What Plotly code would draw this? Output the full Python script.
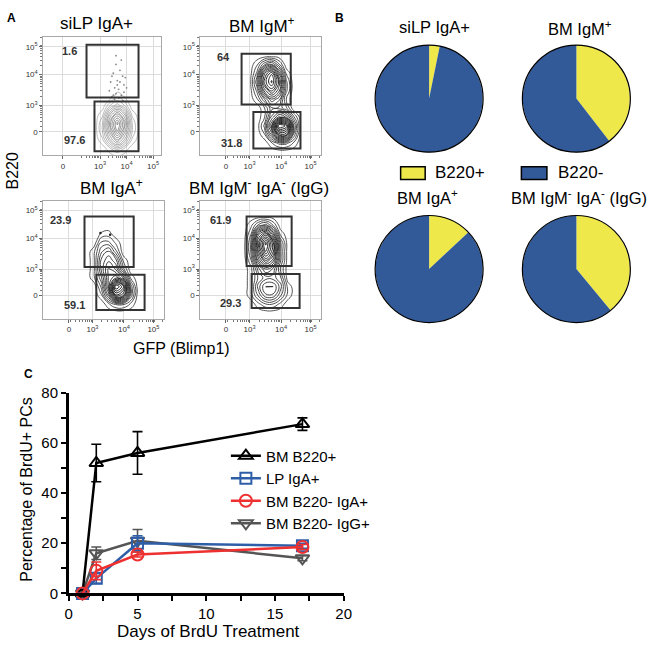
import math
import plotly.graph_objects as go

W, H = 658, 654
FONT = "Liberation Sans, Arial, sans-serif"


def px(x):
    return x / W


def py(y):
    return 1 - y / H


# ---------------- Panel C data ----------------
days = [1, 2, 5, 17]
bm_b220pos = [0, 52, 56, 67.5]
bm_b220pos_err = [0, 7.5, 8.5, 2.5]
lp_iga = [0, 6, 20, 19]
lp_iga_err = [0, 2, 3, 1]
bm_b220neg_iga = [0, 9, 15.5, 18.5]
bm_b220neg_iga_err = [0, 3.5, 1, 1]
bm_b220neg_igg = [0, 16, 21, 14]
bm_b220neg_igg_err = [0, 2.5, 4.5, 1]

# ---------------- Panel B data ----------------
pie_titles = ["siLP IgA+", "BM IgM<sup>+</sup>", "BM IgA<sup>+</sup>",
              "BM IgM<sup>-</sup> IgA<sup>-</sup> (IgG)"]
pie_labels = ["B220+", "B220-"]
b220pos_share = [3.2, 39.5, 13, 39]
b220neg_share = [96.8, 60.5, 87, 61]

# ---------------- Panel A data ----------------
flow_titles = ["siLP IgA+", "BM IgM<sup>+</sup>", "BM IgA<sup>+</sup>",
               "BM IgM<sup>-</sup> IgA<sup>-</sup> (IgG)"]
gate_upper_pct = ["1.6", "64", "23.9", "61.9"]
gate_lower_pct = ["97.6", "31.8", "59.1", "29.3"]

# density grids (display units: ~decades of GFP / B220)
flow1_x = [1.2, 1.5, 1.8, 2.05, 2.3, 2.6, 2.9]
flow1_y = [-0.9, -0.6, -0.3, 0.0, 0.3, 0.6, 0.9, 1.2, 1.5]
flow1_z = [
    [0, 0, 0, 0, 0, 0, 0],
    [0, 0, 1, 2, 1, 0, 0],
    [0, 1, 4, 6, 4, 1, 0],
    [0, 2, 6, 9, 6, 2, 0],
    [0, 2, 7, 10, 7, 2, 0],
    [0, 1, 5, 7, 5, 1, 0],
    [0, 0, 2, 3, 2, 0, 0],
    [0, 0, 0, 1, 0.5, 0, 0],
    [0, 0, 0, 0, 0, 0, 0],
]
flow1_dots_x = [1.85, 2.0, 2.2, 1.95, 2.1, 2.3, 1.8, 2.05, 2.25, 1.9, 2.15, 2.35, 2.0,
                1.75, 2.2, 2.1, 1.95, 2.3, 2.05, 1.85, 2.25, 2.0, 2.15, 1.9, 2.4]
flow1_dots_y = [1.2, 1.3, 1.25, 1.5, 1.45, 1.6, 1.7, 1.75, 1.9, 2.0, 2.1, 1.85, 2.3,
                1.4, 2.45, 1.15, 1.1, 1.35, 1.6, 1.9, 1.05, 2.6, 1.7, 1.25, 1.5]

flow2_x = [0.8, 1.05, 1.3, 1.55, 1.8, 2.05, 2.3, 2.55]
flow2_y = [-0.7, -0.4, -0.1, 0.2, 0.5, 0.8, 1.1, 1.4, 1.7, 2.0, 2.3, 2.6]
flow2_z = [
    [0, 0, 0, 0, 0, 0, 0, 0],
    [0, 0, 0, 1, 2, 2, 1, 0],
    [0, 0, 1, 4, 8, 8, 3, 0],
    [0, 0, 2, 6, 12, 11, 4, 0],
    [0, 0, 1, 4, 6, 5, 2, 0],
    [0, 0, 1, 3, 3, 2, 0, 0],
    [0, 1, 3, 5, 4, 1, 0, 0],
    [0, 2, 6, 8, 6, 2, 0, 0],
    [0, 3, 8, 10, 7, 2, 0, 0],
    [0, 2, 7, 9, 5, 1, 0, 0],
    [0, 1, 3, 4, 2, 0, 0, 0],
    [0, 0, 0, 0, 0, 0, 0, 0],
]

flow3_x = [0.6, 0.85, 1.1, 1.35, 1.6, 1.85, 2.1, 2.35]
flow3_y = [-0.6, -0.3, 0.0, 0.3, 0.6, 0.9, 1.2, 1.5, 1.8, 2.1, 2.4]
flow3_z = [
    [0, 0, 0, 0, 0, 0, 0, 0],
    [0, 0, 0, 1, 2, 2, 1, 0],
    [0, 0, 1, 4, 9, 8, 3, 0],
    [0, 0, 2, 6, 12, 10, 3, 0],
    [0, 1, 3, 6, 7, 5, 1, 0],
    [0, 1, 4, 6, 5, 2, 0, 0],
    [0, 1, 4, 5, 4, 1, 0, 0],
    [0, 1, 3, 4, 2, 0, 0, 0],
    [0, 0, 2, 2, 1, 0, 0, 0],
    [0, 0, 0.6, 0.8, 0, 0, 0, 0],
    [0, 0, 0, 0, 0, 0, 0, 0],
]
flow3_dots_x = [1.07, 1.4]
flow3_dots_y = [2.13, 2.07]

flow4_x = [0.6, 0.85, 1.1, 1.35, 1.6, 1.85, 2.1, 2.35]
flow4_y = [-0.6, -0.3, 0.0, 0.3, 0.6, 0.9, 1.2, 1.5, 1.8, 2.1, 2.4, 2.7]
flow4_z = [
    [0, 0, 0, 0, 0, 0, 0, 0],
    [0, 0, 1, 2, 2, 1, 0, 0],
    [0, 1, 3, 5, 5, 3, 1, 0],
    [0, 1, 4, 6, 6, 4, 1, 0],
    [0, 1, 3, 4, 4, 3, 0, 0],
    [0, 1, 4, 6, 5, 2, 0, 0],
    [0, 2, 7, 10, 8, 3, 0, 0],
    [0, 3, 9, 13, 10, 3, 0, 0],
    [0, 3, 10, 14, 10, 3, 0, 0],
    [0, 2, 8, 10, 6, 1, 0, 0],
    [0, 1, 3, 4, 2, 0, 0, 0],
    [0, 0, 0, 0, 0, 0, 0, 0],
]

# gates: (x0, x1, y0, y1) in display units
gates_upper = [(0.89, 2.85, 1.17, 2.97), (0.53, 2.2, 0.93, 2.67),
               (0.53, 2.2, 0.97, 2.7), (0.7, 2.23, 1.0, 2.7)]
gates_lower = [(1.19, 2.85, -0.67, 1.03), (0.93, 2.53, -0.57, 0.67),
               (0.93, 2.57, -0.5, 0.7), (0.87, 2.5, -0.43, 0.73)]
label_upper_pos = [(0.26, 2.77), (-0.1, 2.57), (-0.3, 2.57), (-0.17, 2.57)]
label_lower_pos = [(0.44, -0.3), (0.2, -0.4), (0.2, -0.33), (0.17, -0.27)]

flow_tick_text = ["0", "10<sup>3</sup>", "10<sup>4</sup>", "10<sup>5</sup>"]
flow_x_ticks = [[0, 1.4, 2.4, 3.4], [0, 0.8, 1.87, 2.87], [0, 0.8, 1.87, 2.87], [0, 0.8, 1.87, 2.87]]
flow_x_range = [[-0.74, 3.7], [-0.87, 3.23], [-0.87, 3.23], [-0.87, 3.23]]
flow_y_ticks = [0, 0.9, 1.95, 2.9]
flow_y_range = [-0.8, 3.23]

flow_dom_px = [((40, 160), (29, 150)), ((200, 323), (29, 150)),
               ((40, 163), (197, 318)), ((200, 323), (197, 318))]
flow_title_px = [(94, 15), (263, 16), (110, 183), (260, 183)]

fig = go.Figure()

# ---------------- Panel A traces ----------------
grids = [(flow1_x, flow1_y, flow1_z), (flow2_x, flow2_y, flow2_z),
         (flow3_x, flow3_y, flow3_z), (flow4_x, flow4_y, flow4_z)]
for i, (gx, gy, gz) in enumerate(grids):
    ax = str(i + 2)
    zmax = max(max(r) for r in gz)
    if i == 0:
        cs = [[0, "#a0a0a0"], [1, "#5a5a5a"]]
        nlev, lw = 14, 0.7
    else:
        cs = [[0, "#444444"], [1, "#000000"]]
        nlev, lw = 18, 0.9
    fig.add_trace(go.Contour(
        x=gx, y=gy, z=gz, xaxis="x" + ax, yaxis="y" + ax,
        contours=dict(coloring="lines", start=0.5, end=zmax - 0.2, size=zmax / nlev),
        colorscale=cs, showscale=False, line=dict(width=lw, smoothing=1.3),
        hoverinfo="skip", showlegend=False))

fig.add_trace(go.Scatter(x=flow1_dots_x, y=flow1_dots_y, xaxis="x2", yaxis="y2",
                         mode="markers", marker=dict(size=1.8, color="#888"),
                         showlegend=False, hoverinfo="skip"))
fig.add_trace(go.Scatter(x=flow3_dots_x, y=flow3_dots_y, xaxis="x4", yaxis="y4",
                         mode="markers", marker=dict(size=2.5, color="#222"),
                         showlegend=False, hoverinfo="skip"))

# ---------------- Panel B traces ----------------
pie_dom_px = [((378, 488), (37, 147)), ((528, 638), (37, 147)),
              ((378, 488), (212, 322)), ((528, 638), (212, 322))]
pie_title_px = [(439, 18), (587, 20), (431, 193), (586, 193)]
for i in range(4):
    (xa, xb), (ya, yb) = pie_dom_px[i]
    fig.add_trace(go.Pie(
        values=[b220pos_share[i], b220neg_share[i]], labels=pie_labels,
        sort=False, direction="clockwise", rotation=0,
        marker=dict(colors=["#efe84a", "#335a98"], line=dict(width=0)),
        textinfo="none", hoverinfo="skip", showlegend=False,
        domain=dict(x=[px(xa), px(xb)], y=[py(yb), py(ya)])))

# ---------------- Panel C traces ----------------
series = [
    ("BM B220- IgG+", bm_b220neg_igg, bm_b220neg_igg_err, "#555555", "triangle-down-open", 4, 12),
    ("BM B220+", bm_b220pos, bm_b220pos_err, "#000000", "triangle-up-open", 1, 12),
    ("LP IgA+", lp_iga, lp_iga_err, "#2f5ea8", "square-open", 2, 11),
    ("BM B220- IgA+", bm_b220neg_iga, bm_b220neg_iga_err, "#ee3030", "circle-open", 3, 12),
]
for name, yv, ev, col, sym, rank, ms in series:
    fig.add_trace(go.Scatter(
        x=days, y=yv, name=name, mode="lines+markers", legendrank=rank,
        error_y=dict(type="data", array=ev, color=col, thickness=1.6, width=5),
        line=dict(color=col, width=2.5),
        marker=dict(symbol=sym, size=ms, color=col, line=dict(width=2, color=col)),
        cliponaxis=False, hoverinfo="skip"))

# ---------------- Layout ----------------
layout = dict(
    width=W, height=H, margin=dict(l=0, r=0, t=0, b=0),
    paper_bgcolor="white", plot_bgcolor="white",
    font=dict(family=FONT, color="black"),
    showlegend=True,
    legend=dict(x=px(226), y=py(442), xanchor="left", yanchor="top",
                font=dict(size=15, family=FONT, color="black"),
                bgcolor="rgba(0,0,0,0)", tracegroupgap=0, itemwidth=30),
    xaxis=dict(domain=[px(66), px(346)], range=[0, 20], anchor="y",
               tickvals=[0, 5, 10, 15, 20], ticks="outside", ticklen=5, tickwidth=2,
               tickcolor="black", showline=True, linewidth=2.5, linecolor="black",
               showgrid=False, zeroline=False, tickfont=dict(size=15),
               minor=dict(tickvals=[2.5, 7.5, 12.5, 17.5], ticks="outside", ticklen=5,
                          tickwidth=2, tickcolor="black")),
    yaxis=dict(domain=[py(600), py(394)], range=[0, 80], anchor="x",
               tickvals=[0, 20, 40, 60, 80], ticks="outside", ticklen=5, tickwidth=2,
               tickcolor="black", showline=True, linewidth=2.5, linecolor="black",
               showgrid=False, zeroline=False, tickfont=dict(size=15),
               minor=dict(tickvals=[10, 30, 50, 70], ticks="outside", ticklen=5,
                          tickwidth=2, tickcolor="black")),
)


def log_minor(decade_pos):
    step = decade_pos[2] - decade_pos[1]
    out = []
    for d in decade_pos[1:]:
        for k in range(2, 10):
            out.append(d + math.log10(k) * step)
    for k in range(2, 10):
        out.append(decade_pos[1] - (1 - math.log10(k)) * step)
    return out


for i in range(4):
    ax = str(i + 2)
    (xa, xb), (ya, yb) = flow_dom_px[i]
    common = dict(showline=True, mirror=True, linecolor="#a8a8a8", linewidth=1,
                  showgrid=True, gridcolor="#dcdcdc", gridwidth=1, zeroline=False,
                  ticks="outside", ticklen=3, tickcolor="#666",
                  tickfont=dict(size=8, color="#333"))
    layout["xaxis" + ax] = dict(
        domain=[px(xa), px(xb)], range=flow_x_range[i], anchor="y" + ax,
        tickmode="array", tickvals=flow_x_ticks[i], ticktext=flow_tick_text,
        minor=dict(tickvals=log_minor(flow_x_ticks[i]), ticks="outside", ticklen=2,
                   tickcolor="#777", showgrid=False),
        **common)
    layout["yaxis" + ax] = dict(
        domain=[py(yb), py(ya)], range=flow_y_range, anchor="x" + ax,
        tickmode="array", tickvals=flow_y_ticks, ticktext=flow_tick_text,
        minor=dict(tickvals=log_minor(flow_y_ticks), ticks="outside", ticklen=2,
                   tickcolor="#777", showgrid=False),
        **common)

shapes = []
annotations = []
for i in range(4):
    ax = str(i + 2)
    for g in (gates_upper[i], gates_lower[i]):
        shapes.append(dict(type="rect", xref="x" + ax, yref="y" + ax,
                           x0=g[0], x1=g[1], y0=g[2], y1=g[3],
                           line=dict(color="#333333", width=2)))
    for txt, pos in ((gate_upper_pct[i], label_upper_pos[i]), (gate_lower_pct[i], label_lower_pos[i])):
        annotations.append(dict(text="<b>" + txt + "</b>", xref="x" + ax, yref="y" + ax,
                                x=pos[0], y=pos[1], showarrow=False,
                                font=dict(size=11, color="#333")))
    tx, ty = flow_title_px[i]
    annotations.append(dict(text=flow_titles[i], xref="paper", yref="paper",
                            x=px(tx), y=py(ty), showarrow=False,
                            font=dict(size=17), xanchor="center", yanchor="middle"))

# pie outlines and titles
for i in range(4):
    (xa, xb), (ya, yb) = pie_dom_px[i]
    shapes.append(dict(type="circle", xref="paper", yref="paper",
                       x0=px(xa), x1=px(xb), y0=py(yb), y1=py(ya),
                       line=dict(color="black", width=1.2)))
    tx, ty = pie_title_px[i]
    annotations.append(dict(text=pie_titles[i], xref="paper", yref="paper",
                            x=px(tx), y=py(ty), showarrow=False,
                            font=dict(size=16.5), xanchor="center", yanchor="middle"))

# pie legend
for (x0, x1), colr, lab, tx in (((404, 429), "#efe84a", pie_labels[0], 437),
                                ((527, 553), "#335a98", pie_labels[1], 562)):
    shapes.append(dict(type="rect", xref="paper", yref="paper",
                       x0=px(x0), x1=px(x1), y0=py(175), y1=py(162),
                       fillcolor=colr, line=dict(color="black", width=1.5)))
    annotations.append(dict(text=lab, xref="paper", yref="paper", x=px(tx), y=py(168),
                            xanchor="left", yanchor="middle", showarrow=False,
                            font=dict(size=17)))

# axis titles and panel letters
annotations += [
    dict(text="B220", xref="paper", yref="paper", x=px(9), y=py(166), textangle=-90,
         showarrow=False, font=dict(size=16), xanchor="center", yanchor="middle"),
    dict(text="GFP (Blimp1)", xref="paper", yref="paper", x=px(181), y=py(349),
         showarrow=False, font=dict(size=16), xanchor="center", yanchor="middle"),
    dict(text="Days of BrdU Treatment", xref="paper", yref="paper", x=px(208), y=py(639),
         showarrow=False, font=dict(size=17), xanchor="center", yanchor="middle"),
    dict(text="Percentage of BrdU+ PCs", xref="paper", yref="paper", x=px(23), y=py(493),
         textangle=-90, showarrow=False, font=dict(size=16), xanchor="center", yanchor="middle"),
    dict(text="<b>A</b>", xref="paper", yref="paper", x=px(8), y=py(9),
         showarrow=False, font=dict(size=12), xanchor="center", yanchor="middle"),
    dict(text="<b>B</b>", xref="paper", yref="paper", x=px(342), y=py(9),
         showarrow=False, font=dict(size=12), xanchor="center", yanchor="middle"),
    dict(text="<b>C</b>", xref="paper", yref="paper", x=px(25), y=py(375),
         showarrow=False, font=dict(size=12), xanchor="center", yanchor="middle"),
]

layout["shapes"] = shapes
layout["annotations"] = annotations
fig.update_layout(**layout)
fig.write_html("out.html",
               config={"displayModeBar": False},
               post_script="document.body.style.margin='0';document.body.style.padding='0';")
